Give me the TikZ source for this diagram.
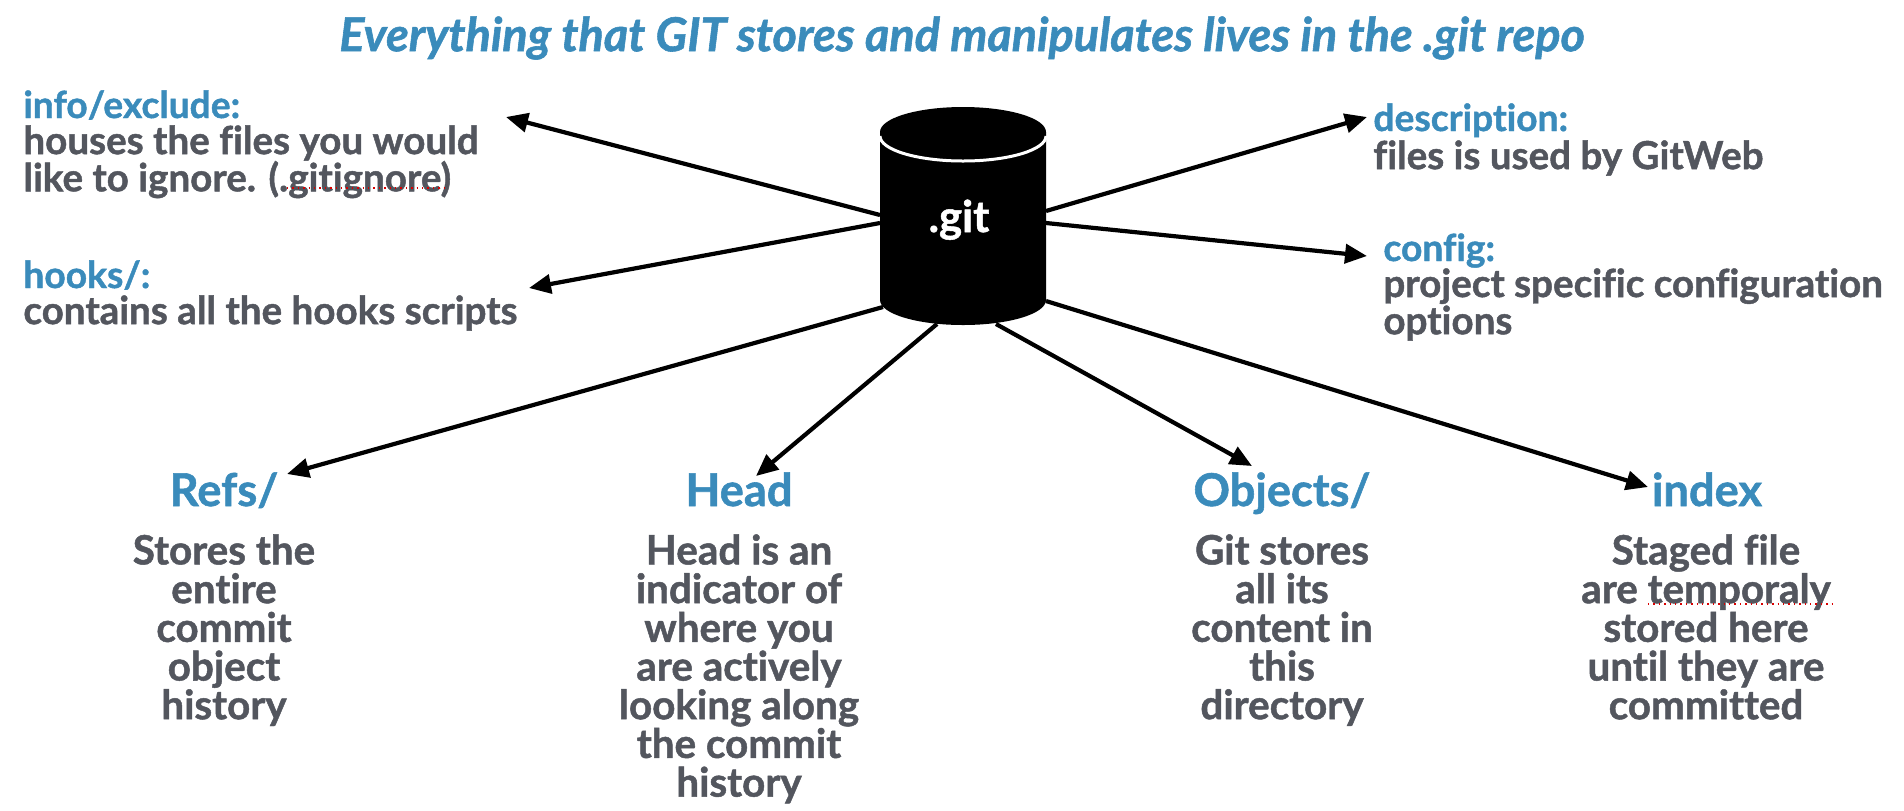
\documentclass[tikz,border=0pt]{standalone}
\usepackage{fontspec}
\setmainfont{Lato}[Ligatures={NoCommon},BoldFeatures={FakeBold=1.2},BoldItalicFeatures={FakeBold=1.2}]
\usetikzlibrary{arrows.meta}
\definecolor{gitblue}{HTML}{3A8BBB}
\definecolor{gitgray}{HTML}{53565E}
\tikzset{
  head/.style={inner sep=0pt,text=gitblue,font=\bfseries\fontsize{22.6}{25}\selectfont,anchor=base},
  sidehead/.style={inner sep=0pt,text=gitblue,font=\bfseries\fontsize{18.6}{19.25}\selectfont,anchor=base west},
  sidebody/.style={inner sep=0pt,text=gitgray,font=\bfseries\fontsize{19.3}{18.6}\selectfont,align=left,anchor=north west},
  body/.style={inner sep=0pt,text=gitgray,font=\bfseries\fontsize{20.2}{19.35}\selectfont,align=center,anchor=north},
  arr/.style={line width=2.1pt,-{Triangle[length=11pt,width=9.5pt]}},
  spell/.style={red!85!black,line width=0.7pt,dotted},
}
\begin{document}
\begin{tikzpicture}[x=0.5pt,y=-0.5pt]
\useasboundingbox (0,0) rectangle (1904,810);
\node[inner sep=0pt,text=gitblue,font=\bfseries\itshape\fontsize{23.4}{25}\selectfont] (title) at (962,38) {Everything that GIT stores and manipulates lives in the .git repo};
% cylinder
\fill (880,132) -- (880,300) arc[start angle=180,end angle=0,x radius=83,y radius=25] -- (1046,132) -- cycle;
\fill (963,132) ellipse[x radius=83,y radius=25];
\draw[white,line width=1.5pt] (880,136) arc[start angle=180,end angle=0,x radius=83,y radius=25];
\node[inner sep=0pt,text=white,font=\bfseries\fontsize{21.8}{24}\selectfont,anchor=base] (git) at (959,232) {.git};
% labels
\node[sidehead] (infoh) at (23,118) {info/exclude:};
\node[sidebody] (info) at (23,125) {houses the files you would\\like to ignore. (.gitignore)};
\node[sidehead] (hooksh) at (23,288) {hooks/:};
\node[sidebody] (hooks) at (23,295) {contains all the hooks scripts};
\node[sidehead] (desch) at (1373,131) {description:};
\node[sidebody] (desc) at (1373,140) {files is used by GitWeb};
\node[sidehead] (configh) at (1383,261) {config:};
\node[sidebody] (config) at (1383,268) {project specific configuration\\options};
\node[head] (refsh) at (224,506) {Refs/};
\node[body] (refs) at (224,534) {Stores the\\entire\\commit\\object\\history};
\node[head] (headh) at (739,506) {Head};
\node[body] (headb) at (739,534) {Head is an\\indicator of\\where you\\are actively\\looking along\\the commit\\history};
\node[head] (objh) at (1282,506) {Objects/};
\node[body] (obj) at (1282,534) {Git stores\\all its\\content in\\this\\directory};
\node[head] (idxh) at (1707,506) {index};
\node[body] (idx) at (1706,534) {Staged file\\are temporaly\\stored here\\until they are\\committed};
\draw[spell] (287,188) -- (445,188);
\draw[spell] (1648,604) -- (1832,604);
% connector ends
\coordinate (gInfo) at (880,215);
\coordinate (gHooks) at (880,223);
\coordinate (gDesc) at (1046,211);
\coordinate (gConfig) at (1046,223);
\coordinate (gRefs) at (883,307);
\coordinate (gHead) at (937,324);
\coordinate (gObj) at (996,324);
\coordinate (gIdx) at (1046,301);
\coordinate (eInfo) at (506,117);
\coordinate (eHooks) at (529,288);
\coordinate (eDesc) at (1367,117);
\coordinate (eConfig) at (1367,256);
\coordinate (eRefs) at (287,474);
\coordinate (eHead) at (756,476);
\coordinate (eObj) at (1252,466);
\coordinate (eIdx) at (1648,487);
\draw[arr] (gInfo) -- (eInfo);
\draw[arr] (gHooks) -- (eHooks);
\draw[arr] (gDesc) -- (eDesc);
\draw[arr] (gConfig) -- (eConfig);
\draw[arr] (gRefs) -- (eRefs);
\draw[arr] (gHead) -- (eHead);
\draw[arr] (gObj) -- (eObj);
\draw[arr] (gIdx) -- (eIdx);
\end{tikzpicture}
\end{document}
